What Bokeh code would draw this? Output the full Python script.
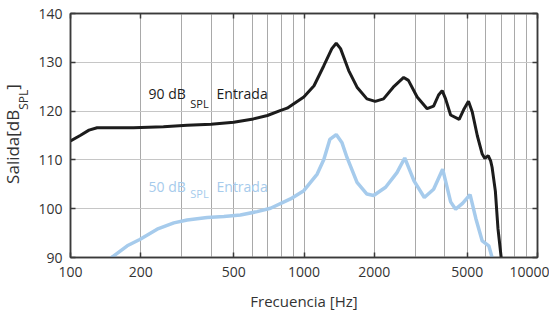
from bokeh.plotting import figure
from bokeh.layouts import row
from bokeh.models import LogAxis, LinearAxis, FixedTicker, Label, NumeralTickFormatter, Div
from bokeh.embed import file_html
from bokeh.resources import INLINE

# ---- data ----
black_f = [100, 110, 120, 130, 150, 186, 250, 316, 400, 500, 607, 697, 790, 847, 998, 1104, 1216,
           1316, 1374, 1434, 1554, 1687, 1860, 2018, 2191, 2411, 2673, 2800, 3052, 3368, 3590,
           3770, 3906, 4040, 4245, 4620, 4853, 5062, 5257, 5521, 5798, 5950, 6150, 6300, 6390,
           6600, 6770, 6990, 7100]
black_db = [113.9, 115.0, 116.1, 116.6, 116.6, 116.6, 116.8, 117.1, 117.3, 117.7, 118.4, 119.1, 120.1,
            120.6, 122.9, 125.2, 129.3, 132.8, 133.9, 132.8, 128.3, 124.9, 122.5, 122.0, 122.5,
            124.9, 126.9, 126.3, 122.9, 120.5, 121.0, 123.3, 124.2, 122.5, 119.2, 118.3, 120.5,
            122.0, 119.8, 115.0, 111.2, 110.3, 110.9, 109.8, 108.5, 103.6, 96.0, 90.0, 87.5]

blue_f = [145, 150, 175, 198, 235, 277, 316, 385, 454, 534, 630, 719, 875, 998, 1139, 1216, 1290,
          1374, 1455, 1528, 1687, 1860, 1987, 2236, 2501, 2700, 2959, 3276, 3590, 3925, 4246,
          4460, 4775, 5144, 5443, 5798, 6186, 6390, 6500]
blue_db = [89.3, 90.0, 92.4, 93.7, 95.8, 97.1, 97.7, 98.2, 98.4, 98.7, 99.4, 100.1, 102.0, 103.7,
           107.1, 110.1, 114.2, 115.2, 113.5, 110.5, 105.4, 103.0, 102.7, 104.4, 107.4, 110.4,
           105.7, 102.3, 104.0, 108.1, 101.4, 99.9, 101.1, 102.9, 98.0, 93.4, 92.4, 90.0, 88.5]

x_ticks = [100, 200, 500, 1000, 2000, 5000, 10000]
y_ticks = [90, 100, 110, 120, 130, 140]
x_grid = [100, 200, 300, 400, 500, 600, 700, 800, 900,
          1000, 2000, 3000, 4000, 5000, 6000, 7000, 8000, 9000, 10000]

x_title = "Frecuencia [Hz]"
y_title_main, y_title_sub, y_title_end = "Salida[dB", "SPL", "]"

FONT = "Open Sans"
AX = "#3a3a3a"
BLACK = "#1c1c1c"
BLUE = "#a6cbec"
TXT = "#333333"

LEFT_W = 28
p = figure(width=549 - LEFT_W, height=316, x_axis_type="log", x_range=(100, 10000), y_range=(90, 140),
           output_backend="svg", toolbar_location=None,
           min_border_left=70 - LEFT_W, min_border_right=12, min_border_top=13, min_border_bottom=59)
p.outline_line_color = AX
p.outline_line_width = 1.5
p.background_fill_color = "white"

# grids
p.xgrid.ticker = FixedTicker(ticks=x_grid)
p.xgrid.grid_line_color = "#a9a9a9"
p.xgrid.grid_line_width = 1
p.ygrid.ticker = FixedTicker(ticks=y_ticks)
p.ygrid.grid_line_color = "#c6c6c6"
p.ygrid.grid_line_width = 1.2

# axes
p.xaxis.ticker = FixedTicker(ticks=x_ticks)
p.xaxis.formatter = NumeralTickFormatter(format="0")
p.yaxis.ticker = FixedTicker(ticks=y_ticks)
for ax in (p.xaxis[0], p.yaxis[0]):
    ax.axis_line_color = AX
    ax.axis_line_width = 1.5
    ax.major_tick_in = 5
    ax.major_tick_out = 0
    ax.minor_tick_in = 0
    ax.minor_tick_out = 0
    ax.major_tick_line_color = AX
    ax.major_tick_line_width = 1.5
    ax.major_label_text_font = FONT
    ax.major_label_text_font_size = "14px"
    ax.major_label_text_color = TXT
p.xaxis.major_label_standoff = 9
p.yaxis.major_label_standoff = 8
p.xaxis.axis_label = x_title
p.xaxis.axis_label_text_font = FONT
p.xaxis.axis_label_text_font_size = "15px"
p.xaxis.axis_label_text_font_style = "normal"
p.xaxis.axis_label_text_color = TXT
p.xaxis.axis_label_standoff = 11

top = LogAxis(ticker=FixedTicker(ticks=x_ticks), major_label_overrides={t: "" for t in x_ticks},
              major_label_text_font_size="1px",
              major_tick_in=5, major_tick_out=0, minor_tick_in=0, minor_tick_out=0,
              axis_line_color=AX, axis_line_width=1.5, major_tick_line_color=AX,
              major_tick_line_width=1.5, major_label_standoff=0)
right = LinearAxis(ticker=FixedTicker(ticks=y_ticks), major_label_overrides={t: "" for t in y_ticks},
                   major_label_text_font_size="1px",
                   major_tick_in=5, major_tick_out=0, minor_tick_in=0, minor_tick_out=0,
                   axis_line_color=AX, axis_line_width=1.5, major_tick_line_color=AX,
                   major_tick_line_width=1.5, major_label_standoff=0)
p.add_layout(top, "above")
p.add_layout(right, "right")

# curves
p.line(blue_f, blue_db, line_color=BLUE, line_width=3.5)
p.line(black_f, black_db, line_color=BLACK, line_width=3)

# annotations
def lab(x, y, t, size, color, **kw):
    p.add_layout(Label(x=x, y=y, text=t, text_font=FONT, text_font_size=size,
                       text_color=color, text_baseline="middle", **kw))

lab(216, 123.7, "90 dB", "14px", BLACK)
lab(326, 121.6, "SPL", "11px", BLACK)
lab(422, 123.7, "Entrada", "14px", BLACK)
lab(216, 104.5, "50 dB", "14px", BLUE)
lab(326, 103.1, "SPL", "11px", BLUE)
lab(422, 104.5, "Entrada", "14px", BLUE)

# rotated y title with subscript
ylab_html = (
    '<div style="width:340px; transform-origin:0 0; transform:translate(0px,304px) rotate(-90deg);'
    ' text-align:center; font-family:\'Open Sans\'; font-size:17px; line-height:25px;'
    ' color:%s; white-space:nowrap;">%s<span style="font-size:12px; position:relative; top:9px;">%s</span>%s</div>'
    % (TXT, y_title_main, y_title_sub, y_title_end)
)
ydiv = Div(text=ylab_html, width=LEFT_W, height=316, margin=0)

layout = row(ydiv, p, spacing=0)
open("out.html", "w").write(file_html(layout, INLINE))
